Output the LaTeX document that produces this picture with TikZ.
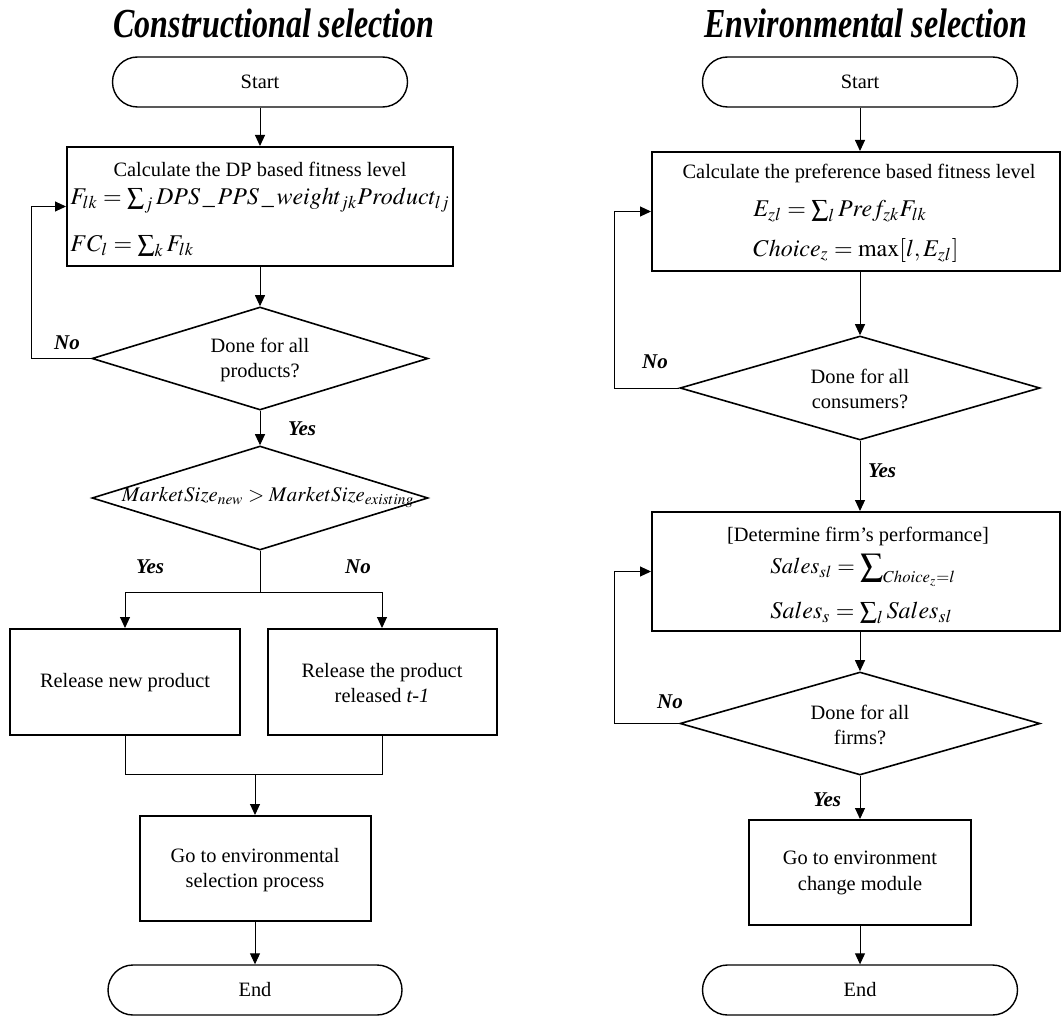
\documentclass[tikz,border=0pt]{standalone}
\usepackage{mathptmx}
\usepackage{fontspec}
\setmainfont{Liberation Serif}
\usepackage{graphicx}
\usetikzlibrary{shapes.geometric,arrows.meta}

\begin{document}
\begin{tikzpicture}[x=0.5pt,y=-0.5pt,
  box/.style={draw,line width=1pt,rectangle,inner sep=0pt},
  term/.style={draw,line width=0.7pt,rectangle,rounded corners=12.5pt,minimum height=25pt,inner sep=0pt,font=\fontsize{10.2}{12}\selectfont},
  dia/.style={draw,line width=0.8pt,diamond,inner sep=0pt},
  txt/.style={inner sep=0pt,font=\fontsize{10.2}{12.6}\selectfont,align=center},
  fml/.style={inner sep=0pt,font=\fontsize{12}{14}\selectfont},
  lbl/.style={inner sep=0pt,font=\fontsize{10.5}{12}\selectfont\bfseries\itshape},
  ttl/.style={inner sep=0pt,font=\fontsize{16.5}{18}\selectfont\bfseries\itshape},
  conn/.style={line width=0.5pt},
  arr/.style={conn,-{Triangle[length=5.5pt,width=5pt]}}
]
\useasboundingbox (0,0) rectangle (1063,1016);

% ---------- titles ----------
\node[ttl] (tL) at (274,23) {\scalebox{0.97}[1.25]{Constructional selection}};
\node[ttl] (tR) at (866,23) {\scalebox{0.97}[1.25]{Environmental selection}};

% ---------- constructional selection ----------
\node[term,minimum width=147.5pt] (startL) at (260,82) {Start};
\node[box,minimum width=193pt,minimum height=59.5pt] (box1) at (260,206.5) {};
\node[txt] (box1t) at (260,169) {Calculate the DP based fitness level};
\node[fml,anchor=west] (box1f1) at (70,201) {$F_{lk} = \sum_{j} DPS\,\_\,PPS\,\_\,weight_{jk}Product_{lj}$};
\node[fml,anchor=west] (box1f2) at (70,246) {$FC_{l} = \sum_{k} F_{lk}$};

\node[dia,minimum width=168pt,minimum height=51.5pt] (d1) at (260,358.5) {};
\node[txt] (d1t) at (260,360) {Done for all\\products?};

\node[dia,minimum width=168pt,minimum height=52pt] (d2) at (260,498) {};
\node[fml,font=\fontsize{10.4}{12}\selectfont] (d2t) at (268,497) {$MarketSize_{new} > MarketSize_{existing}$};

\node[box,minimum width=115pt,minimum height=53pt] (boxA) at (125,682) {};
\node[txt] (boxAt) at (125,683) {Release new product};
\node[box,minimum width=114.5pt,minimum height=53pt] (boxB) at (382,682) {};
\node[txt] (boxBt) at (382,683) {Release the product\\released \textit{t-1}};

\node[box,minimum width=115.5pt,minimum height=52.5pt] (boxC) at (255,868.5) {};
\node[txt] (boxCt) at (255,870) {Go to environmental\\selection process};

\node[term,minimum width=147pt] (endL) at (255,990) {End};

\coordinate (brk) at (260,592);
\coordinate (mrg) at (255,774);

\draw[arr] (startL.south) -- (box1.north);
\draw[arr] (box1.south) -- (d1.north);
\draw[arr] (d1.south) -- (d2.north);
\draw[arr] (d1.west) -- ++(-60,0) |- (box1.west);
\draw[conn] (d2.south) -- (brk);
\draw[arr] (brk) -| (boxA.north);
\draw[arr] (brk) -| (boxB.north);
\draw[conn] (boxA.south) |- (mrg) -| (boxB.south);
\draw[arr] (mrg) -- (boxC.north);
\draw[arr] (boxC.south) -- (endL.north);

\node[lbl] (n1) at (67,343) {No};
\node[lbl] (y1) at (302,429) {Yes};
\node[lbl] (y2) at (150,567) {Yes};
\node[lbl] (n2) at (358,567) {No};

% ---------- environmental selection ----------
\node[term,minimum width=157.5pt] (startR) at (860,82) {Start};
\node[box,minimum width=204pt,minimum height=59.5pt] (boxD) at (856,211.5) {};
\node[txt] (boxDt) at (859,173) {Calculate the preference based fitness level};
\node[fml,anchor=west] (boxDf1) at (753,211) {$E_{zl} = \sum_{l} Pref_{zk} F_{lk}$};
\node[fml,anchor=west] (boxDf2) at (753,250) {$Choice_{z} = \max[l, E_{zl}]$};

\node[dia,minimum width=180pt,minimum height=52pt] (d3) at (860,388) {};
\node[txt] (d3t) at (860,389) {Done for all\\consumers?};

\node[box,minimum width=204pt,minimum height=59.5pt] (boxE) at (856,571.5) {};
\node[txt] (boxEt) at (858,536) {[Determine firm’s performance]};
\node[fml,anchor=west,font=\fontsize{11.3}{14}\selectfont] (boxEf1) at (770,570) {$Sales_{sl} = \displaystyle\sum\nolimits_{Choice_z = l}$};
\node[fml,anchor=west] (boxEf2) at (770,613) {$Sales_{s} = \sum_{l} Sales_{sl}$};

\node[dia,minimum width=180pt,minimum height=51.5pt] (d4) at (860,723.5) {};
\node[txt] (d4t) at (860,725) {Done for all\\firms?};

\node[box,minimum width=111pt,minimum height=52.5pt] (boxF) at (860,872.5) {};
\node[txt] (boxFt) at (860,873) {Go to environment\\change module};

\node[term,minimum width=157.5pt] (endR) at (860,990) {End};

\draw[arr] (startR.south) -- (startR.south |- boxD.north);
\draw[arr] (d3.north |- boxD.south) -- (d3.north);
\draw[arr] (d3.south) -- (d3.south |- boxE.north);
\draw[arr] (d4.north |- boxE.south) -- (d4.north);
\draw[arr] (d4.south) -- (boxF.north);
\draw[arr] (boxF.south) -- (endR.north);
\draw[arr] (d3.west) -- ++(-65,0) |- (boxD.west);
\draw[arr] (d4.west) -- ++(-65,0) |- (boxE.west);

\node[lbl] (n3) at (655,362) {No};
\node[lbl] (y3) at (882,471) {Yes};
\node[lbl] (n4) at (670,702) {No};
\node[lbl] (y4) at (827,800) {Yes};
\end{tikzpicture}
\end{document}
